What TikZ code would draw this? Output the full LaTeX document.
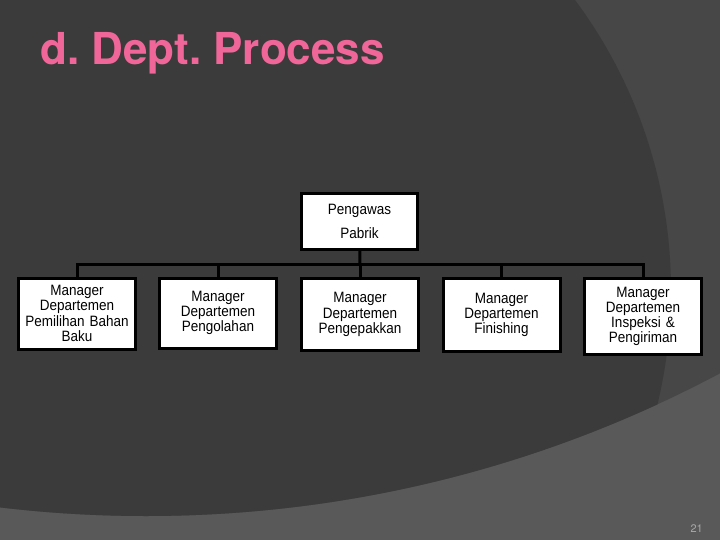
\documentclass[tikz,border=0pt]{standalone}
\usepackage{fontspec}
\setmainfont{TeX Gyre Heros}
\newfontfamily\boxfont[FakeStretch=0.9]{Liberation Sans}
\definecolor{bglight}{HTML}{595959}
\definecolor{bgmid}{HTML}{474747}
\definecolor{bgdark}{HTML}{3B3B3B}
\definecolor{titlepink}{RGB}{240,102,152}
\definecolor{pagegray}{HTML}{A8A8A8}
\frenchspacing
\begin{document}
\begin{tikzpicture}[x=1pt,y=-1pt,
  box/.style={draw=black, fill=white, line width=3pt, align=center,
    font=\boxfont\fontsize{15}{15.2}\selectfont, text width=114pt,
    inner xsep=1.5pt, inner ysep=0pt, anchor=north},
  link/.style={line width=3pt, draw=black}]
\useasboundingbox (0,0) rectangle (720,540);
\fill[bglight] (0,0) rectangle (720,540);
\begin{scope}
  \clip (0,0) rectangle (720,540);
  \fill[bgmid] (146,-708) circle[radius=1224pt];
  \clip (146,-708) circle[radius=1224pt];
  \fill[bgdark] (185,290) circle[radius=486pt];
\end{scope}

\node[anchor=base west, text=titlepink, inner sep=0pt,
  font=\fontsize{44}{50}\selectfont\bfseries] (title) at (40,65) {d. Dept. Process};

\node[box, anchor=center, font=\boxfont\fontsize{15}{23.3}\selectfont, text width=113pt,
  minimum height=56pt] (top) at (359.5,221.5) {Pengawas\\Pabrik};

\node[box, minimum height=71pt] (b1) at (77,276.5) {Manager\\Departemen\\Pemilihan Bahan\\Baku};
\node[box, minimum height=70pt] (b2) at (218,276.5) {Manager\\Departemen\\Pengolahan};
\node[box, minimum height=72pt] (b3) at (360,277) {Manager\\Departemen\\Pengepakkan};
\node[box, minimum height=73pt] (b4) at (501.5,277) {Manager\\Departemen\\Finishing};
\node[box, minimum height=76pt] (b5) at (643,277) {Manager\\Departemen\\Inspeksi \&\\Pengiriman};

\coordinate (bus) at (360,264);
\draw[link] (top) -- (bus);
\draw[link] (b1.north) -- (b1.north |- bus) -- (b5.north |- bus) -- (b5.north);
\draw[link] (b2.north |- bus) -- (b2.north);
\draw[link] (b3.north |- bus) -- (b3.north);
\draw[link] (b4.north |- bus) -- (b4.north);

\node[anchor=base east, text=pagegray, inner sep=0pt,
  font=\fontsize{11}{12}\selectfont] (page) at (703,532) {21};
\end{tikzpicture}
\end{document}
